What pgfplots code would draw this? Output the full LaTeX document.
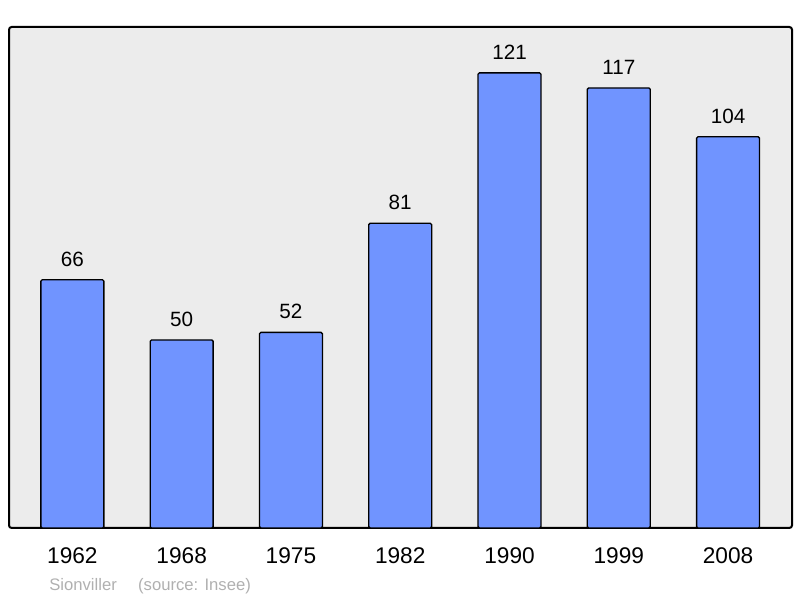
\documentclass[border=0pt]{standalone}
\usepackage{fontspec}
\setmainfont{Liberation Sans}
\usepackage{pgfplots}
\pgfplotsset{compat=1.18}
\definecolor{barblue}{HTML}{7094FF}
\definecolor{bggray}{HTML}{ECECEC}
\definecolor{notegray}{HTML}{B0B0B0}
\begin{document}
\begin{tikzpicture}[x=0.75pt,y=0.75pt]
\useasboundingbox (-9,-70) rectangle (791,528);
\begin{axis}[
  at={(0,0)}, anchor=south west,
  scale only axis,
  width=587.25pt, height=375.75pt,
  ybar, bar width=0.576,
  xmin=-0.58, xmax=6.585,
  ymin=0, ymax=133.2,
  axis background/.style={fill=bggray},
  axis line style={line width=1.5pt, rounded corners=2pt},
  xtick=data,
  xticklabels={1962,1968,1975,1982,1990,1999,2008},
  ytick=\empty,
  major tick length=0pt,
  xticklabel style={anchor=center, yshift=-21pt, font=\fontsize{17}{17}\selectfont},
  nodes near coords,
  every node near coord/.append style={anchor=center, yshift=15.5pt, font=\fontsize{15.5}{15.5}\selectfont, text=black},
  /pgf/number format/assume math mode=true,
]
\addplot[fill=barblue, draw=black, line width=1pt, rounded corners=1pt] coordinates {
  (0,66) (1,50) (2,52) (3,81) (4,121) (5,117) (6,104)
};
\end{axis}
\node[anchor=west, text=notegray, font=\fontsize{12.5}{12.5}\selectfont, inner sep=0pt] at (40,-58) {Sionviller\quad\ (source: Insee)};
\end{tikzpicture}
\end{document}
